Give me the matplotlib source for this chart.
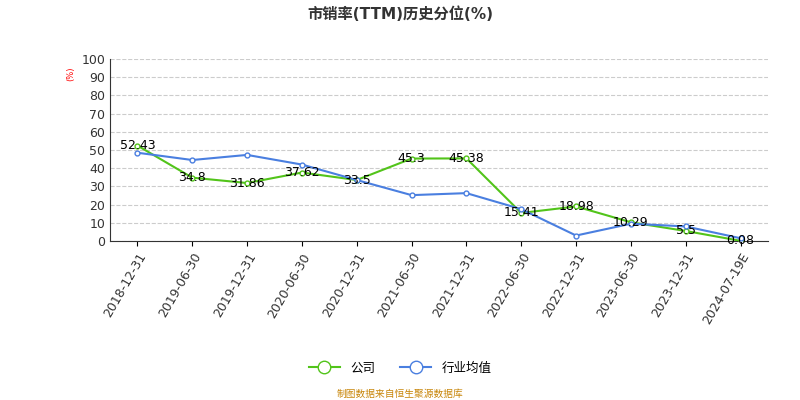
import matplotlib
matplotlib.use("Agg")
import matplotlib.pyplot as plt

categories = ["2018-12-31","2019-06-30","2019-12-31","2020-06-30","2020-12-31","2021-06-30",
              "2021-12-31","2022-06-30","2022-12-31","2023-06-30","2023-12-31","2024-07-19E"]
company = [52.43,34.8,31.86,37.62,33.5,45.3,45.38,15.41,18.98,10.29,5.5,0.08]
industry = [48.5,44.5,47.3,42.0,33.5,25.2,26.3,17.5,3.0,9.5,8.0,1.5]
labels = ["52.43","34.8","31.86","37.62","33.5","45.3","45.38","15.41","18.98","10.29","5.5","0.08"]

plt.rcParams["font.family"] = ["DejaVu Sans", "Noto Sans CJK SC"]
fig = plt.figure(figsize=(8,4), dpi=100)
ax = fig.add_axes([0.1375, 0.3975, 0.8225, 0.455])
x = list(range(len(categories)))
ax.plot(x, company, color="#52c41a", lw=1.5, marker="o", ms=3.5, mfc="white", mec="#52c41a", zorder=3)
ax.plot(x, industry, color="#4a7fe0", lw=1.5, marker="o", ms=3.5, mfc="white", mec="#4a7fe0", zorder=3)
ax.plot([], [], color="#52c41a", lw=1.5, marker="o", ms=9, mfc="white", mec="#52c41a", label="公司")
ax.plot([], [], color="#4a7fe0", lw=1.5, marker="o", ms=9, mfc="white", mec="#4a7fe0", label="行业均值")
for xi, v, t in zip(x, company, labels):
    ax.text(xi, v, t, ha="center", va="center", fontsize=9, color="black", zorder=4)
ax.set_xlim(-0.5, len(x)-0.5)
ax.set_ylim(0, 100)
ax.set_yticks(range(0, 101, 10))
ax.set_xticks(x)
ax.set_xticklabels(categories, rotation=60, ha="right", rotation_mode="anchor", fontsize=9, color="#333")
ax.tick_params(axis="y", labelsize=9, colors="#333", length=0)
ax.grid(axis="y", ls="--", color="#cccccc", lw=0.8)
for s in ["top","right"]:
    ax.spines[s].set_visible(False)
ax.spines["left"].set_color("#333")
ax.spines["bottom"].set_color("#333")
ax.text(-0.06, 0.92, "(%)", transform=ax.transAxes, color="red", fontsize=6, rotation=90, ha="center", va="center")
fig.text(0.5, 0.965, "市销率(TTM)历史分位(%)", ha="center", va="center", fontsize=11, fontweight="bold", color="#333")
fig.legend(loc="center", bbox_to_anchor=(0.5, 0.08), ncol=2, frameon=False, fontsize=9, handlelength=2.5)
fig.text(0.5, 0.015, "制图数据来自恒生聚源数据库", ha="center", va="center", fontsize=7, color="#c8860a")
fig.savefig("out.png", dpi=100)
